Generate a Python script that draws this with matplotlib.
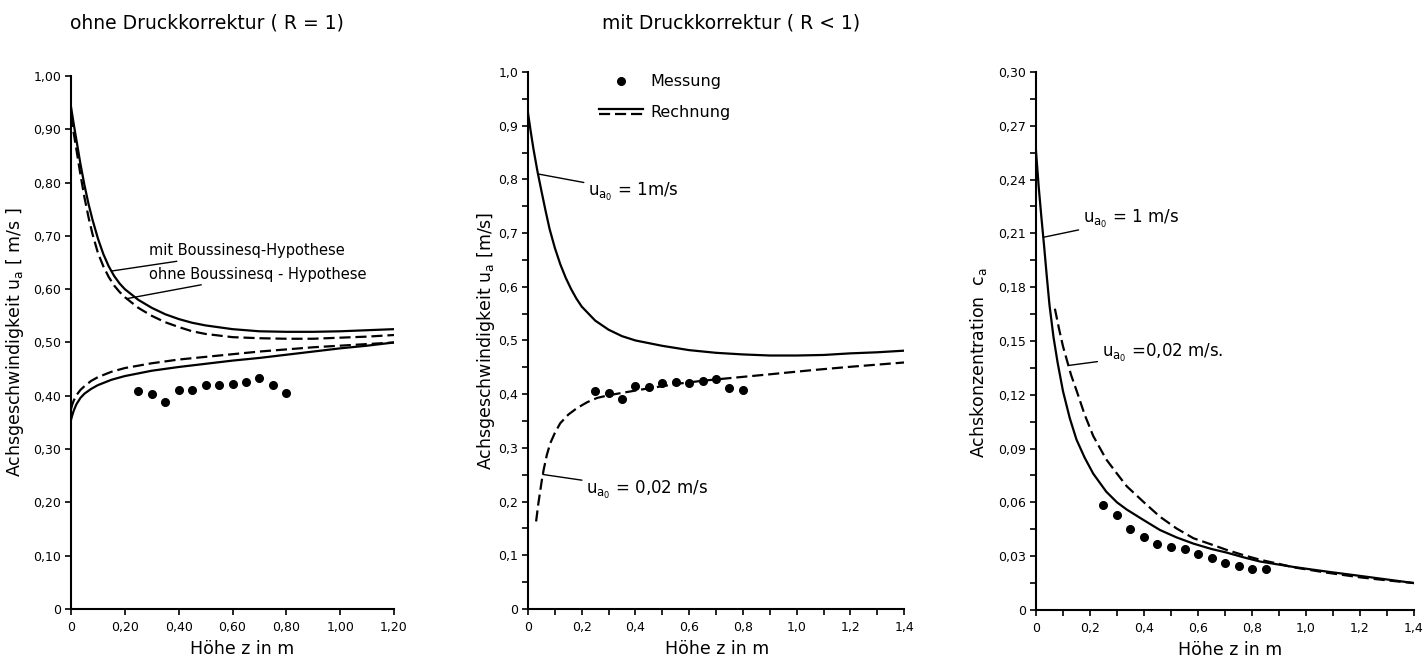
import numpy as np
import matplotlib
matplotlib.use("Agg")
import matplotlib.pyplot as plt
from matplotlib.lines import Line2D
from matplotlib.legend_handler import HandlerBase
from matplotlib.ticker import MultipleLocator

plt.rcParams['font.family'] = ['DejaVu Sans']
plt.rcParams['mathtext.default'] = 'regular'

# --- left panel: ohne Druckkorrektur (R = 1) ---
z_up_left = [0, 0.01, 0.02, 0.035, 0.05, 0.065, 0.08, 0.1, 0.12, 0.14, 0.16, 0.18, 0.2, 0.25,
             0.3, 0.35, 0.4, 0.45, 0.5, 0.6, 0.7, 0.8, 0.9, 1.0, 1.1, 1.2]
u_up_mit = [0.942, 0.910, 0.880, 0.835, 0.795, 0.760, 0.730, 0.695, 0.666, 0.643, 0.625, 0.611, 0.600, 0.580,
            0.565, 0.553, 0.544, 0.537, 0.532, 0.525, 0.521, 0.520, 0.520, 0.521, 0.523, 0.525]
u_up_ohne = [0.925, 0.893, 0.862, 0.815, 0.772, 0.735, 0.703, 0.668, 0.643, 0.623, 0.607, 0.595, 0.585, 0.565,
             0.550, 0.538, 0.529, 0.521, 0.516, 0.510, 0.508, 0.507, 0.507, 0.509, 0.511, 0.514]

z_lo_left = [0, 0.005, 0.01, 0.02, 0.035, 0.05, 0.075, 0.1, 0.15, 0.2, 0.3, 0.4, 0.5, 0.6, 0.7, 0.8,
             0.9, 1.0, 1.1, 1.2]
u_lo_mit = [0.355, 0.364, 0.372, 0.384, 0.396, 0.404, 0.413, 0.420, 0.430, 0.437, 0.447, 0.454, 0.460,
            0.466, 0.471, 0.477, 0.483, 0.489, 0.494, 0.500]
u_lo_ohne = [0.375, 0.384, 0.391, 0.401, 0.411, 0.418, 0.428, 0.435, 0.445, 0.452, 0.461, 0.468, 0.473,
             0.478, 0.483, 0.487, 0.491, 0.494, 0.497, 0.500]

z_mess = [0.25, 0.30, 0.35, 0.40, 0.45, 0.50, 0.55, 0.60, 0.65, 0.70, 0.75, 0.80]
u_mess_left = [0.409, 0.403, 0.389, 0.410, 0.411, 0.421, 0.420, 0.423, 0.425, 0.433, 0.420, 0.406]

# --- middle panel: mit Druckkorrektur (R < 1) ---
z_mid_1 = [0, 0.01, 0.02, 0.035, 0.05, 0.065, 0.08, 0.1, 0.12, 0.14, 0.16, 0.18, 0.2, 0.25, 0.3, 0.35,
           0.4, 0.5, 0.6, 0.7, 0.8, 0.9, 1.0, 1.1, 1.2, 1.3, 1.4]
u_mid_1 = [0.923, 0.889, 0.857, 0.815, 0.778, 0.742, 0.708, 0.672, 0.642, 0.617, 0.596, 0.578, 0.563,
           0.537, 0.520, 0.508, 0.500, 0.490, 0.482, 0.477, 0.474, 0.472, 0.472, 0.473, 0.476, 0.478, 0.481]
z_mid_002 = [0.03, 0.038, 0.046, 0.052, 0.058, 0.07, 0.083, 0.1, 0.12, 0.15, 0.182, 0.22, 0.257, 0.3,
             0.38, 0.45, 0.567, 0.65, 0.753, 0.9, 1.063, 1.2, 1.4]
u_mid_002 = [0.163, 0.195, 0.222, 0.242, 0.259, 0.287, 0.309, 0.328, 0.346, 0.362, 0.374, 0.385, 0.393,
             0.398, 0.405, 0.411, 0.420, 0.425, 0.430, 0.437, 0.445, 0.451, 0.459]
u_mess_mid = [0.405, 0.403, 0.391, 0.415, 0.414, 0.420, 0.423, 0.420, 0.425, 0.428, 0.411, 0.407]

# --- right panel: Achskonzentration ---
z_c_1 = [0, 0.01, 0.02, 0.03, 0.04, 0.05, 0.065, 0.08, 0.1, 0.125, 0.15, 0.18, 0.212, 0.26, 0.3, 0.336,
         0.4, 0.459, 0.52, 0.583, 0.65, 0.706, 0.77, 0.83, 0.9, 0.953, 1.077, 1.2, 1.3, 1.4]
c_1 = [0.256, 0.236, 0.219, 0.203, 0.186, 0.170, 0.152, 0.138, 0.122, 0.107, 0.095, 0.085, 0.076, 0.066,
       0.060, 0.056, 0.050, 0.0446, 0.0405, 0.037, 0.034, 0.032, 0.0293, 0.027, 0.0253, 0.024, 0.0214,
       0.019, 0.017, 0.015]
z_c_002 = [0.070, 0.085, 0.1, 0.115, 0.13, 0.151, 0.18, 0.212, 0.26, 0.3, 0.336, 0.4, 0.459, 0.52, 0.583,
           0.65, 0.706, 0.77, 0.83, 0.9, 0.953, 1.077, 1.2, 1.3, 1.4]
c_002 = [0.168, 0.157, 0.147, 0.139, 0.131, 0.122, 0.109, 0.097, 0.084, 0.076, 0.069, 0.060, 0.052,
         0.0455, 0.040, 0.0365, 0.0335, 0.0305, 0.028, 0.0257, 0.0238, 0.0208, 0.0182, 0.0165, 0.015]
z_c_mess = [0.25, 0.30, 0.35, 0.40, 0.45, 0.50, 0.55, 0.60, 0.65, 0.70, 0.75, 0.80, 0.85]
c_mess = [0.0586, 0.0528, 0.0452, 0.0407, 0.0368, 0.0349, 0.0338, 0.0312, 0.0288, 0.0260, 0.0247, 0.0230, 0.0230]

LW = 1.6
DASH = (5, 2.2)
TICKFS = 9
LABFS = 12.5
ANNFS = 12


def comma(v, nd):
    if v == 0:
        return "0"
    return f"{v:.{nd}f}".replace(".", ",")


def style_axes(ax):
    for s in ["top", "right"]:
        ax.spines[s].set_visible(False)
    for s in ["left", "bottom"]:
        ax.spines[s].set_linewidth(1.5)
    ax.tick_params(which="both", direction="out", width=1.2, length=4, labelsize=TICKFS, pad=3)
    ax.tick_params(axis="x", which="both", pad=5)


class DoubleLine(HandlerBase):
    # solid over dashed, as in the "Rechnung" key
    def create_artists(self, legend, orig_handle, xdescent, ydescent, width, height, fontsize, trans):
        yc = height / 2 - ydescent
        off = fontsize * 0.16
        x = [-xdescent, width - xdescent]
        top = Line2D(x, [yc + off, yc + off], color="black", lw=LW, transform=trans)
        bot = Line2D(x, [yc - off, yc - off], color="black", lw=LW, dashes=DASH, transform=trans)
        return [top, bot]


def leader(ax, text, x, xs, ys, pos):
    ax.annotate(text, xy=(x, np.interp(x, xs, ys)), xytext=pos, fontsize=ANNFS,
                ha="left", va="center",
                arrowprops=dict(arrowstyle="-", lw=1, color="black", shrinkA=1, shrinkB=0))


fig = plt.figure(figsize=(14.26, 6.59), dpi=100)

# left
ax1 = fig.add_axes([0.0498, 0.0759, 0.2265, 0.8088])
ax1.plot(z_up_left, u_up_mit, color="black", lw=LW)
ax1.plot(z_up_left, u_up_ohne, color="black", lw=LW, dashes=DASH)
ax1.plot(z_lo_left, u_lo_mit, color="black", lw=LW)
ax1.plot(z_lo_left, u_lo_ohne, color="black", lw=LW, dashes=DASH)
ax1.plot(z_mess, u_mess_left, "o", color="black", ms=5.5)
ax1.set_xlim(0, 1.2)
ax1.set_ylim(0, 1.0)
style_axes(ax1)
xt = np.round(np.arange(0, 1.21, 0.2), 2)
ax1.set_xticks(xt, [comma(v, 2) for v in xt])
yt = np.round(np.arange(0, 1.01, 0.1), 2)
ax1.set_yticks(yt, [comma(v, 2) for v in yt])
ax1.set_xlabel("Höhe z in m", fontsize=LABFS)
ax1.set_ylabel("Achsgeschwindigkeit $u_a$ [ m/s ]", fontsize=LABFS)
ax1.xaxis.set_label_coords(0.53, -0.058)
ax1.yaxis.set_label_coords(-0.139, 0.5)
ax1.annotate("mit Boussinesq-Hypothese", xy=(0.15, np.interp(0.15, z_up_left, u_up_mit)),
             xytext=(0.29, 0.672), fontsize=10.5, ha="left", va="center",
             arrowprops=dict(arrowstyle="-", lw=1, color="black", shrinkA=1, shrinkB=0))
ax1.annotate("ohne Boussinesq - Hypothese", xy=(0.207, np.interp(0.207, z_up_left, u_up_ohne)),
             xytext=(0.29, 0.628), fontsize=10.5, ha="left", va="center",
             arrowprops=dict(arrowstyle="-", lw=1, color="black", shrinkA=1, shrinkB=0))

# middle
ax2 = fig.add_axes([0.3703, 0.0759, 0.2637, 0.8149])
l_sol, = ax2.plot(z_mid_1, u_mid_1, color="black", lw=LW)
l_dash, = ax2.plot(z_mid_002, u_mid_002, color="black", lw=LW, dashes=DASH)
l_dot, = ax2.plot(z_mess, u_mess_mid, "o", color="black", ms=5.5)
ax2.set_xlim(0, 1.4)
ax2.set_ylim(0, 1.0)
style_axes(ax2)
xt2 = np.round(np.arange(0, 1.41, 0.2), 2)
ax2.set_xticks(xt2, [comma(v, 1) for v in xt2])
ax2.xaxis.set_minor_locator(MultipleLocator(0.1))
yt2 = np.round(np.arange(0, 1.01, 0.1), 2)
ax2.set_yticks(yt2, [comma(v, 1) for v in yt2])
ax2.yaxis.set_minor_locator(MultipleLocator(0.05))
ax2.set_xlabel("Höhe z in m", fontsize=LABFS)
ax2.set_ylabel("Achsgeschwindigkeit $u_a$ [m/s]", fontsize=LABFS)
ax2.xaxis.set_label_coords(0.504, -0.058)
ax2.yaxis.set_label_coords(-0.082, 0.5)
leader(ax2, "$u_{a_0}$ = 1m/s", 0.037, z_mid_1, u_mid_1, (0.223, 0.777))
leader(ax2, "$u_{a_0}$ = 0,02 m/s", 0.055, z_mid_002, u_mid_002, (0.216, 0.222))
ax2.legend([l_dot, (l_sol, l_dash)], ["Messung", "Rechnung"],
           handler_map={tuple: DoubleLine()}, loc="upper left",
           bbox_to_anchor=(0.19, 0.996), frameon=False, fontsize=11.5,
           handlelength=2.7, handletextpad=0.5, labelspacing=1.0,
           borderpad=0, borderaxespad=0)

# right
ax3 = fig.add_axes([0.7265, 0.0744, 0.2651, 0.8164])
ax3.plot(z_c_1, c_1, color="black", lw=LW)
ax3.plot(z_c_002, c_002, color="black", lw=LW, dashes=DASH)
ax3.plot(z_c_mess, c_mess, "o", color="black", ms=5.5)
ax3.set_xlim(0, 1.4)
ax3.set_ylim(0, 0.30)
style_axes(ax3)
ax3.set_xticks(xt2, [comma(v, 1) for v in xt2])
ax3.xaxis.set_minor_locator(MultipleLocator(0.1))
yt3 = np.round(np.arange(0, 0.301, 0.03), 3)
ax3.set_yticks(yt3, [comma(v, 2) for v in yt3])
ax3.yaxis.set_minor_locator(MultipleLocator(0.015))
ax3.set_xlabel("Höhe z in m", fontsize=LABFS)
ax3.set_ylabel("Achskonzentration  $c_a$", fontsize=LABFS)
ax3.xaxis.set_label_coords(0.513, -0.058)
ax3.yaxis.set_label_coords(-0.124, 0.46)
leader(ax3, "$u_{a_0}$ = 1 m/s", 0.027, z_c_1, c_1, (0.173, 0.218))
leader(ax3, "$u_{a_0}$ =0,02 m/s.", 0.12, z_c_002, c_002, (0.243, 0.1433))

fig.text(70 / 1426, 1 - 23 / 659, "ohne Druckkorrektur ( R = 1)", fontsize=13.5, ha="left", va="center")
fig.text(602 / 1426, 1 - 23 / 659, "mit Druckkorrektur ( R < 1)", fontsize=13.5, ha="left", va="center")

fig.savefig("out.png", dpi=100)
